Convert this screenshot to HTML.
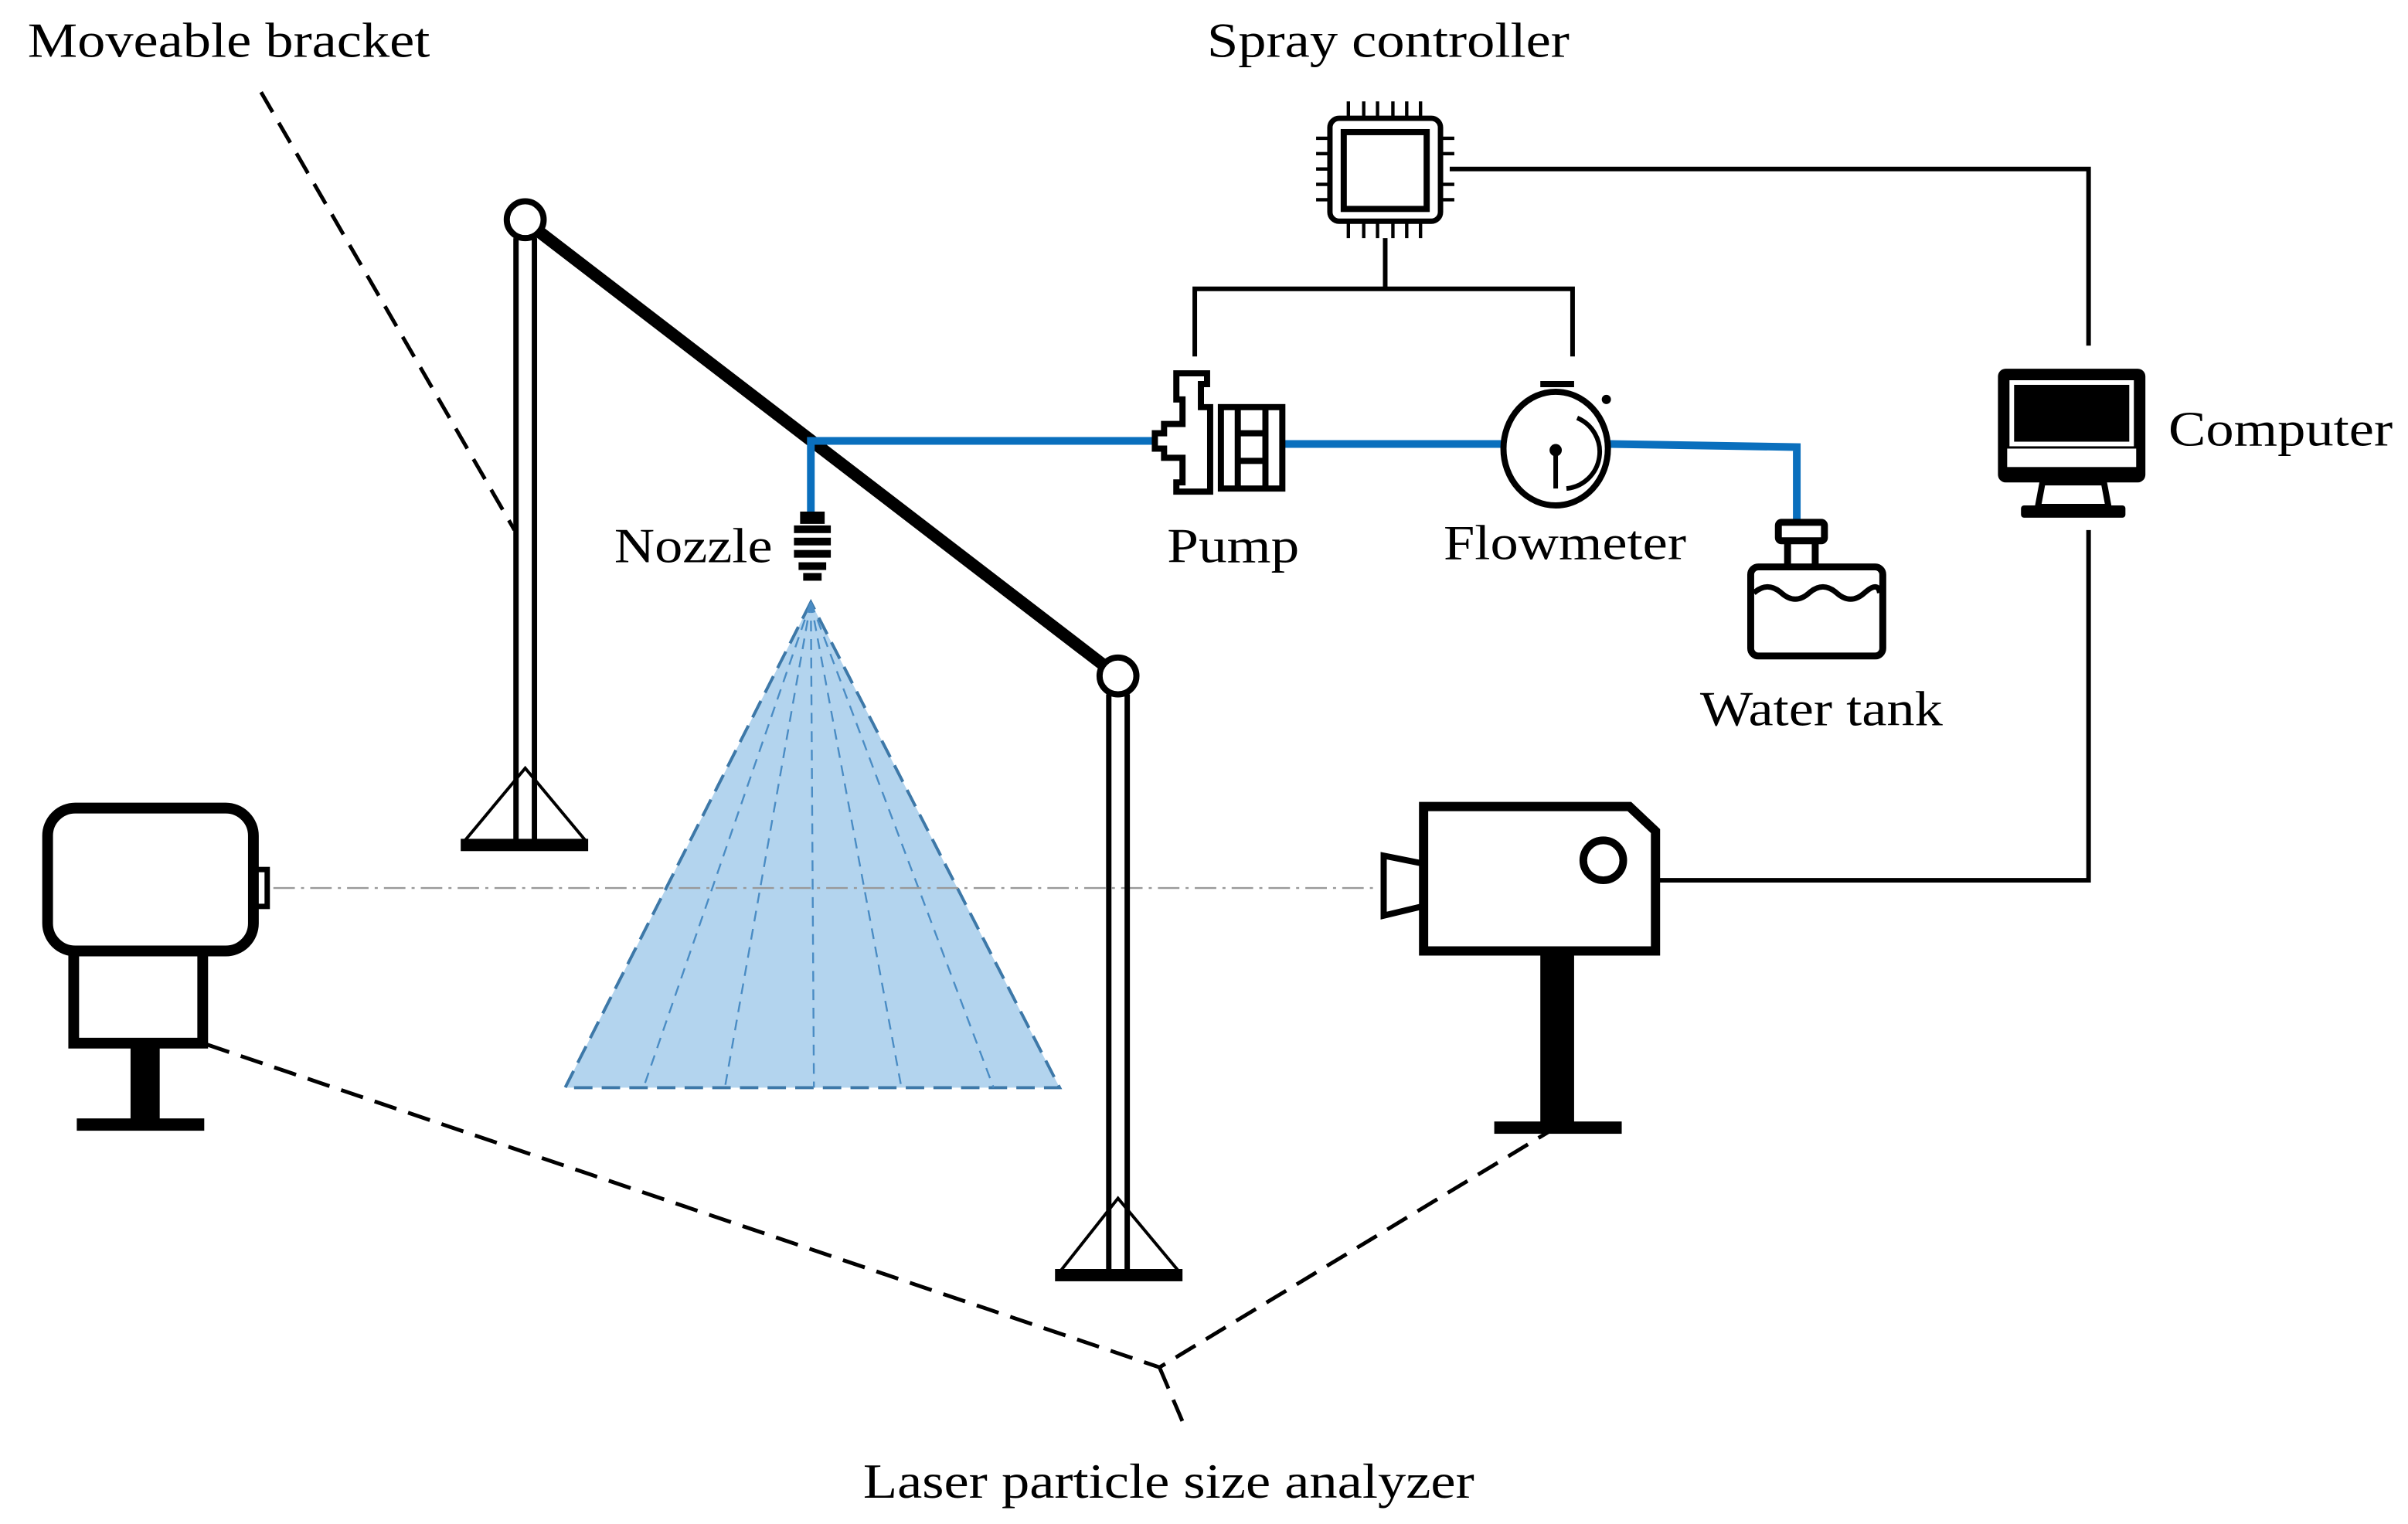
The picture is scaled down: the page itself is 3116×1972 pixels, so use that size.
<!DOCTYPE html>
<html><head><meta charset="utf-8"><style>html,body{margin:0;padding:0;background:#fff}svg{display:block}text{font-family:"Liberation Serif","Times New Roman",Times,serif}</style></head>
<body>
<svg width="3116" height="1972" viewBox="0 0 1568 992" preserveAspectRatio="none" xmlns="http://www.w3.org/2000/svg" font-size="32">
<rect width="1568" height="992" fill="#fff"/>
<text x="18" y="37" textLength="262" lengthAdjust="spacingAndGlyphs">Moveable bracket</text>
<text x="786" y="37" textLength="236" lengthAdjust="spacingAndGlyphs">Spray controller</text>
<text x="400" y="366" textLength="103" lengthAdjust="spacingAndGlyphs">Nozzle</text>
<text x="760" y="366" textLength="86" lengthAdjust="spacingAndGlyphs">Pump</text>
<text x="940" y="364" textLength="158" lengthAdjust="spacingAndGlyphs">Flowmeter</text>
<text x="1107" y="472" textLength="158" lengthAdjust="spacingAndGlyphs">Water tank</text>
<text x="1412" y="290" textLength="146" lengthAdjust="spacingAndGlyphs">Computer</text>
<text x="562" y="975" textLength="398" lengthAdjust="spacingAndGlyphs">Laser particle size analyzer</text>

<g stroke="#000" stroke-width="2.5" stroke-dasharray="15,8" fill="none">
<line x1="170" y1="60" x2="335" y2="345"/>
<polyline points="135,680 755,890 1008,737"/>
<line x1="755" y1="890" x2="772" y2="930"/>
</g>

<polygon points="528,392 368,708 690,708" fill="#b3d4ee"/>
<g stroke="#3d78a8" fill="none">
<polygon points="528,392 368,708 690,708" stroke-width="2" stroke-dasharray="12,6"/>
<g stroke-width="1.2" stroke-dasharray="7,5" stroke="#4a8cc4">
<line x1="528" y1="392" x2="419" y2="708"/><line x1="528" y1="392" x2="472" y2="708"/>
<line x1="528" y1="392" x2="530" y2="708"/><line x1="528" y1="392" x2="587" y2="708"/>
<line x1="528" y1="392" x2="647" y2="708"/>
</g></g>

<line x1="178" y1="578" x2="898" y2="578" stroke="#999" stroke-width="1.2" stroke-dasharray="14,4,2,4"/>

<g stroke="#000" fill="none">
<line x1="350" y1="150" x2="720" y2="434" stroke-width="8"/>
<line x1="336" y1="155" x2="336" y2="548" stroke-width="3.5"/>
<line x1="348" y1="155" x2="348" y2="548" stroke-width="3.5"/>
<circle cx="342" cy="143" r="12" stroke-width="4" fill="#fff"/>
<polyline points="302,548 342,500 382,548" stroke-width="2"/>
<line x1="722" y1="452" x2="722" y2="828" stroke-width="3.5"/>
<line x1="734" y1="452" x2="734" y2="828" stroke-width="3.5"/>
<circle cx="728" cy="440" r="12" stroke-width="4" fill="#fff"/>
<polyline points="690,828 728,780 768,828" stroke-width="2"/>
</g>
<rect x="300" y="546" width="83" height="8" fill="#000"/>
<rect x="687" y="826" width="83" height="8" fill="#000"/>

<g stroke="#0a6fbd" stroke-width="5" fill="none">
<polyline points="528,336 528,287 752,287"/>
<line x1="835" y1="289" x2="980" y2="289"/>
<polyline points="1048,289 1170,291 1170,342"/>
</g>

<rect x="521" y="333" width="16" height="8" fill="#000"/>
<rect x="517" y="342" width="24" height="5" fill="#000"/>
<rect x="517" y="350" width="24" height="5" fill="#000"/>
<rect x="517" y="358" width="24" height="5" fill="#000"/>
<rect x="520" y="366" width="18" height="5" fill="#000"/>
<rect x="523" y="373" width="12" height="5" fill="#000"/>

<g stroke="#000" fill="none">
<rect x="866" y="77" width="72" height="67" rx="6" stroke-width="3.5"/>
<rect x="875" y="86" width="54" height="50" stroke-width="4"/>
<g stroke-width="2.2">
<line x1="878" y1="66" x2="878" y2="77"/><line x1="888" y1="66" x2="888" y2="77"/><line x1="897" y1="66" x2="897" y2="77"/><line x1="907" y1="66" x2="907" y2="77"/><line x1="916" y1="66" x2="916" y2="77"/><line x1="925" y1="66" x2="925" y2="77"/>
<line x1="878" y1="144" x2="878" y2="155"/><line x1="888" y1="144" x2="888" y2="155"/><line x1="897" y1="144" x2="897" y2="155"/><line x1="907" y1="144" x2="907" y2="155"/><line x1="916" y1="144" x2="916" y2="155"/><line x1="925" y1="144" x2="925" y2="155"/>
<line x1="857" y1="90" x2="866" y2="90"/><line x1="857" y1="100" x2="866" y2="100"/><line x1="857" y1="110" x2="866" y2="110"/><line x1="857" y1="120" x2="866" y2="120"/><line x1="857" y1="130" x2="866" y2="130"/>
<line x1="938" y1="90" x2="947" y2="90"/><line x1="938" y1="100" x2="947" y2="100"/><line x1="938" y1="120" x2="947" y2="120"/><line x1="938" y1="130" x2="947" y2="130"/>
</g>
<g stroke-width="3">
<polyline points="944,110 1360,110 1360,225"/>
<line x1="902" y1="155" x2="902" y2="188"/>
<polyline points="778,232 778,188 1024,188 1024,232"/>
<polyline points="1360,345 1360,573 1080,573"/>
</g>
</g>

<g stroke="#000" fill="none" stroke-width="4">
<path d="M766,243 H786 V250 H782 V265 H788 V320 H766 V314 H770 V298 H758 V292 H752 V282 H758 V276 H770 V260 H766 Z"/>
<rect x="795" y="265" width="40" height="53"/>
<line x1="806" y1="265" x2="806" y2="318"/>
<line x1="824" y1="265" x2="824" y2="318"/>
<line x1="806" y1="282" x2="824" y2="282"/>
<line x1="806" y1="300" x2="824" y2="300"/>
</g>

<g stroke="#000" fill="none">
<ellipse cx="1013" cy="292" rx="34" ry="37" stroke-width="4"/>
<line x1="1003" y1="250" x2="1025" y2="250" stroke-width="4"/>
<path d="M1027,272 A24,24 0 0 1 1020,318" stroke-width="3"/>
<line x1="1013" y1="293" x2="1013" y2="318" stroke-width="3"/>
</g>
<circle cx="1013" cy="293" r="4" fill="#000"/>
<circle cx="1046" cy="260" r="3" fill="#000"/>

<g stroke="#000" fill="none" stroke-width="4.5">
<rect x="1158" y="340" width="30" height="12" rx="2"/>
<polyline points="1164,353 1164,369"/><polyline points="1182,353 1182,369"/>
<rect x="1140" y="369" width="86" height="58" rx="5"/>
<path d="M1142,386 q9,-8 18,0 t18,0 t18,0 t18,0 t10,0" stroke-width="3.5"/>
</g>

<rect x="1301" y="240" width="96" height="74" rx="5" fill="#000"/>
<rect x="1307" y="292" width="84" height="12" fill="#fff"/>
<rect x="1310" y="249" width="78" height="40" fill="#000" stroke="#fff" stroke-width="3"/>
<path d="M1330,314 L1327,330 L1373,330 L1370,314 Z" fill="#fff" stroke="#000" stroke-width="4"/>
<rect x="1316" y="329" width="68" height="8" rx="2" fill="#000"/>

<g stroke="#000" fill="none">
<rect x="31" y="526" width="134" height="93" rx="18" stroke-width="7"/>
<rect x="166" y="566" width="8" height="24" stroke-width="3.5"/>
<rect x="48" y="619" width="84" height="60" stroke-width="7"/>
</g>
<rect x="85" y="680" width="19" height="50" fill="#000"/>
<rect x="50" y="728" width="83" height="8" fill="#000"/>

<g stroke="#000" fill="none">
<path d="M927,525 H1061 L1078,541 V619 H927 Z" stroke-width="6"/>
<circle cx="1044" cy="560" r="13" stroke-width="5"/>
<path d="M926,562 L901,557 V596 L926,590" stroke-width="4"/>
</g>
<rect x="1003" y="620" width="22" height="112" fill="#000"/>
<rect x="973" y="730" width="83" height="8" fill="#000"/>
</svg>
</body></html>
